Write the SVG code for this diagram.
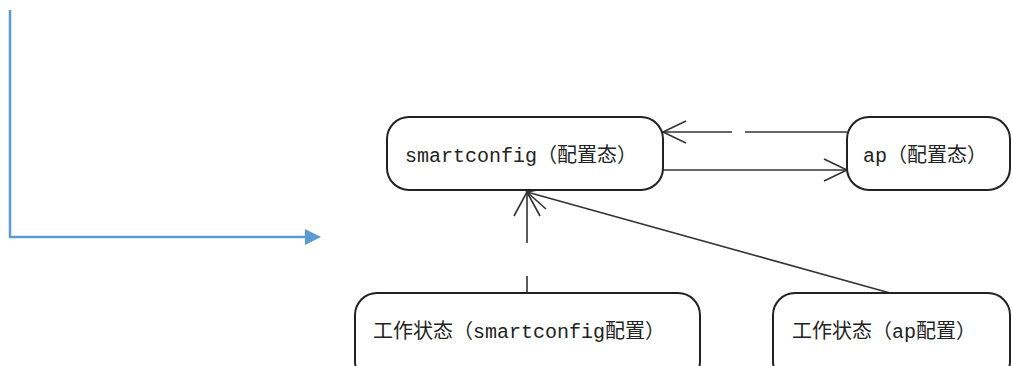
<svg xmlns="http://www.w3.org/2000/svg" width="1012" height="366" viewBox="0 0 1012 366">
<style>
.node{fill:#fff;stroke:#222;stroke-width:2}
.lbl{font-family:"Liberation Mono","Noto Sans CJK SC",monospace;font-size:20px;fill:#222}
.edge{fill:none;stroke:#333;stroke-width:1.6}
.head{fill:none;stroke:#333;stroke-width:1.6}
.blue{fill:none;stroke:#5B9BD5;stroke-width:2.5}
</style>
<defs>
<marker id="blueTri" viewBox="0 0 10 10" refX="0" refY="5" markerWidth="16" markerHeight="16" markerUnits="userSpaceOnUse" orient="auto">
<path d="M0,0 L10,5 L0,10 Z" fill="#5B9BD5"/>
</marker>
</defs>
<g id="axis">
<path class="blue" d="M10,10 V237 H305" marker-end="url(#blueTri)"/>
</g>
<g id="connectors">
<path class="edge" d="M847,132 H745 M732,132 H663"/>
<path class="head" d="M686,121 L663,132 L686,143"/>
<path class="edge" d="M663,170 H847"/>
<path class="head" d="M824,159 L847,170 L824,181"/>
<path class="edge" d="M527,293 V276 M527,243 V192"/>
<path class="head" d="M514,216 L527,192 L540,216"/>
<path class="edge" d="M890,293 L527,192"/>
<path class="head" d="M553,187 L527,192 L546,209"/>
</g>
<g id="n-smartconfig">
<rect class="node" x="387" y="117" width="276" height="73" rx="22"/>
<text class="lbl" x="405" y="162">smartconfig（配置态）</text>
</g>
<g id="n-ap">
<rect class="node" x="847" y="117" width="163" height="73" rx="22"/>
<text class="lbl" x="863" y="162">ap（配置态）</text>
</g>
<g id="n-work-smartconfig">
<rect class="node" x="355" y="293" width="345" height="90" rx="22"/>
<text class="lbl" x="373" y="338">工作状态（smartconfig配置）</text>
</g>
<g id="n-work-ap">
<rect class="node" x="773" y="293" width="237" height="90" rx="22"/>
<text class="lbl" x="792" y="338">工作状态（ap配置）</text>
</g>
</svg>
